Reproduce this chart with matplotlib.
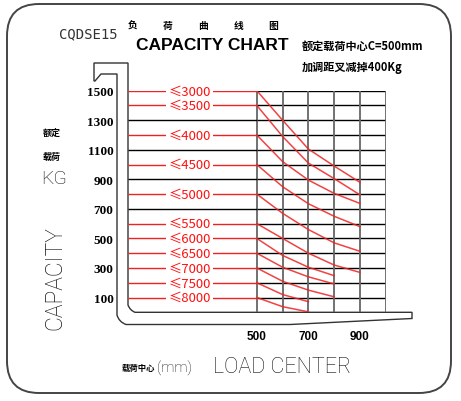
import numpy as np
import matplotlib
matplotlib.use("Agg")
import matplotlib.pyplot as plt
from matplotlib.patches import FancyBboxPatch
from matplotlib.path import Path
from matplotlib.patches import PathPatch

plt.rcParams['font.family'] = ['Noto Sans CJK SC', 'DejaVu Sans']

# load centre (mm) at each grid column
load_center = [500, 600, 700, 800, 900]

# rated capacity (kg), labelled by lift height
lift_labels = ['≤3000', '≤3500', '≤4000', '≤4500', '≤5000', '≤5500',
               '≤6000', '≤6500', '≤7000', '≤7500', '≤8000']
cap_3000 = [1500, 1300, 1105, 990, 880]
cap_3500 = [1400, 1190, 1010, 905, 795]
cap_4000 = [1200, 1020, 895, 805, 737]
cap_4500 = [1000, 850, 735, 650, 580]
cap_5000 = [800, 670, 560, 470, 413]
cap_5500 = [600, 500, 400, 320, 270]
cap_6000 = [500, 385, 305, 248]
cap_6500 = [400, 305, 240, 192]
cap_7000 = [300, 210, 150, 105]
cap_7500 = [200, 120, 72]
cap_8000 = [100, 38, 3]
curves = [cap_3000, cap_3500, cap_4000, cap_4500, cap_5000, cap_5500,
          cap_6000, cap_6500, cap_7000, cap_7500, cap_8000]

y_ticks = [1500, 1300, 1100, 900, 700, 500, 300, 100]
x_ticks = [500, 700, 900]

RED = '#ee2222'
THIN = dict(family=['Roboto', 'DejaVu Sans'], weight='light', color='#111111')

fig = plt.figure(figsize=(4.61, 4.02), dpi=100)

# background layer in pixel units: frame, fork outline, titles
bg = fig.add_axes([0, 0, 1, 1])
bg.set_xlim(0, 461)
bg.set_ylim(402, 0)
bg.axis('off')

bg.add_patch(FancyBboxPatch((7, 5), 444, 389,
                            boxstyle="round,pad=0,rounding_size=32",
                            fc='white', ec='#444444', lw=1.4))

fork = [(94, 64), (128, 64), (128, 306), (130, 311.3), (135, 313.3),
        (412, 313.3), (412, 319.5), (290, 325.5), (126, 325.5),
        (119, 323), (117, 316), (117, 75), (101, 75), (95, 82), (94, 82),
        (94, 64)]
codes = [Path.MOVETO, Path.LINETO, Path.LINETO, Path.CURVE3, Path.CURVE3,
         Path.LINETO, Path.LINETO, Path.LINETO, Path.LINETO,
         Path.CURVE3, Path.CURVE3, Path.LINETO, Path.LINETO, Path.LINETO,
         Path.LINETO, Path.CLOSEPOLY]
bg.add_patch(PathPatch(Path(fork, codes), fc='none', ec='#333333', lw=1.0))

bg.text(88, 34, 'CQDSE15', ha='center', va='center', fontsize=10,
        family=['DejaVu Sans Mono'], color='#333333')
for i, ch in enumerate('负荷曲线图'):
    bg.text(133 + 35 * i, 26, ch, ha='center', va='center', fontsize=7,
            weight='bold')
bg.text(136, 46, 'CAPACITY CHART', ha='left', va='center', fontsize=12.5,
        weight='bold', family=['Liberation Sans'])
bg.text(302, 46, '额定载荷中心C=500mm', ha='left', va='center',
        fontsize=8, weight='bold')
bg.text(302, 67, '加调距叉减掉400Kg', ha='left', va='center',
        fontsize=8, weight='bold')

bg.text(52, 133, '额定', ha='center', va='center', fontsize=6.5, weight='bold')
bg.text(52, 157, '载荷', ha='center', va='center', fontsize=6.5, weight='bold')
bg.text(54, 179, 'KG', ha='center', va='center', fontsize=14, **THIN)
bg.text(55, 278, 'CAPACITY', ha='center', va='center', fontsize=16.5,
        rotation=90, **THIN)

bg.text(122, 368, '载荷中心', ha='left', va='center', fontsize=6, weight='bold')
bg.text(157, 368, '(mm)', ha='left', va='center', fontsize=10.5, **THIN)
bg.text(213, 368, 'LOAD CENTER', ha='left', va='center', fontsize=15.5, **THIN)

# chart area: x in mm (fork face = 0), y in kg (fork top = 0)
ax = fig.add_axes([128 / 461, (402 - 313.3) / 402,
                   257.7 / 461, (313.3 - 91.7) / 402])
ax.set_facecolor('none')
ax.set_xlim(0, 1000)
ax.set_ylim(0, 1500)
for s in ax.spines.values():
    s.set_visible(False)

grid_x = np.arange(500, 1001, 100)
grid_y = np.arange(100, 1501, 100)
ax.hlines(grid_y, 500, 1000, color='black', lw=1.0, zorder=1)
ax.vlines(grid_x, 0, 1500, color='#666666', lw=1.3, zorder=1)

start_levels = [c[0] for c in curves]
plain_levels = [v for v in grid_y if v not in start_levels]
ax.hlines(plain_levels, 0, 500, color='black', lw=1.0, zorder=1)

for lab, cap in zip(lift_labels, curves):
    ax.hlines(cap[0], 0, 500, color=RED, lw=1.0, zorder=2)
    ax.plot(load_center[:len(cap)], cap, color=RED, lw=1.1, alpha=0.85,
            zorder=3)
    ax.text(238, cap[0], lab, ha='center', va='center', fontsize=9.5,
            color='#ff1010', zorder=4,
            bbox=dict(fc='white', ec='none', pad=1.5))

ax.set_yticks(y_ticks)
ax.set_yticklabels([str(v) for v in y_ticks], family=['Liberation Serif'],
                   weight='bold', fontsize=9.5)
ax.set_xticks(x_ticks)
ax.set_xticklabels([str(v) for v in x_ticks], family=['Liberation Sans'],
                   weight='bold', fontsize=8.5)
ax.tick_params(axis='y', length=0, pad=10.5)
ax.tick_params(axis='x', length=0, pad=13)

fig.savefig('out.png', dpi=100)
